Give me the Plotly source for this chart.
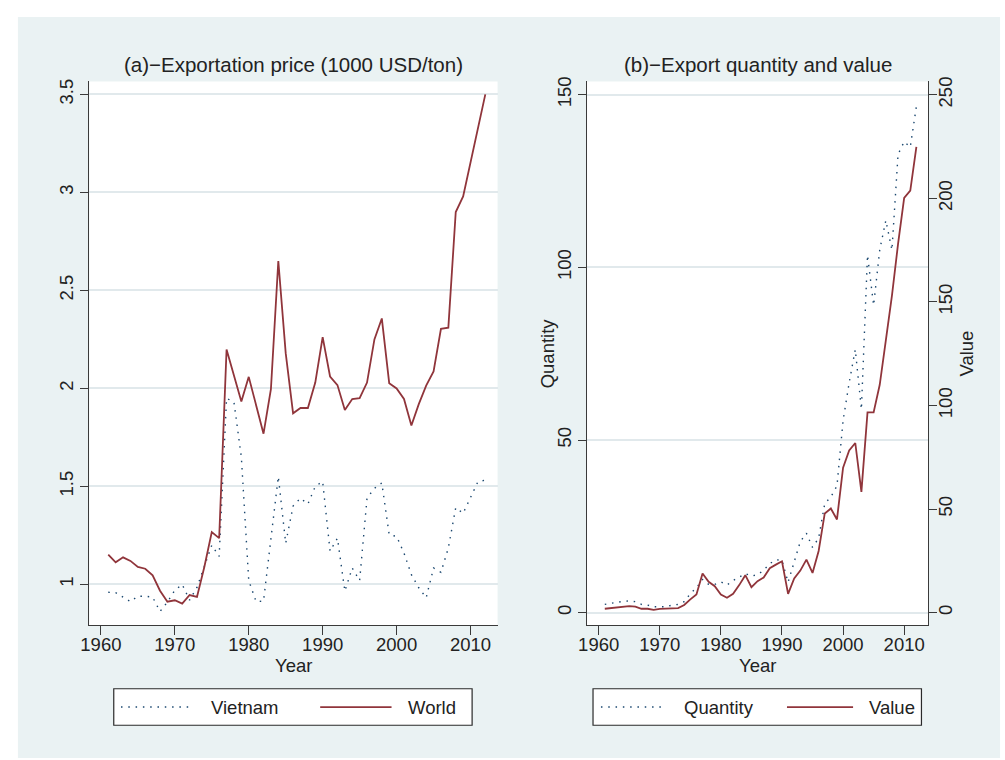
import plotly.graph_objects as go

# ---------------- data ----------------
years = list(range(1961, 2013))

vietnam_price = [0.96, 0.958, 0.935, 0.912, 0.94, 0.94, 0.935, 0.862, 0.91, 0.97,
                 1.0, 0.92, 0.985, 1.09, 1.20, 1.143, 1.95, 1.93, 1.65, 1.02,
                 0.912, 0.915, 1.236, 1.55, 1.21, 1.40, 1.44, 1.41, 1.50, 1.525,
                 1.17, 1.236, 0.966, 1.084, 1.02, 1.44, 1.49, 1.518, 1.253, 1.245,
                 1.16, 1.05, 0.983, 0.932, 1.084, 1.062, 1.186, 1.392, 1.363, 1.447,
                 1.524, 1.532]

world_price = [1.152, 1.113, 1.138, 1.12, 1.089, 1.08, 1.046, 0.968, 0.912, 0.919,
               0.902, 0.946, 0.936, 1.09, 1.267, 1.236, 2.199, 2.07, 1.933, 2.059,
               1.91, 1.769, 1.996, 2.65, 2.18, 1.873, 1.90, 1.90, 2.03, 2.262,
               2.061, 2.017, 1.89, 1.946, 1.95, 2.03, 2.25, 2.357, 2.027, 2.0,
               1.946, 1.811, 1.92, 2.014, 2.087, 2.304, 2.31, 2.90, 2.98, 3.159,
               3.33, 3.50]

quantity = [2.4, 2.7, 3.2, 3.3, 3.4, 3.2, 2.4, 2.2, 1.7, 1.7,
            1.7, 2.2, 2.4, 3.2, 5.5, 7.2, 9.6, 8.2, 8.2, 8.9,
            8.0, 9.3, 10.3, 11.3, 10.6, 11.0, 12.3, 14.2, 15.3, 15.2,
            8.8, 14.4, 20.6, 23.0, 18.9, 21.6, 31.6, 33.5, 36.7, 55.6,
            66.6, 76.2, 58.9, 103.5, 89.0, 105.0, 113.6, 105.0, 132.7, 136.4,
            134.8, 146.6]

value = [1.9, 2.2, 2.4, 2.6, 3.2, 2.9, 1.9, 1.9, 1.4, 1.8,
         1.8, 2.1, 2.2, 3.7, 6.4, 8.8, 18.9, 14.9, 12.8, 8.8,
         7.2, 9.1, 13.3, 18.1, 12.3, 15.2, 17.0, 21.5, 23.2, 24.8,
         9.1, 16.5, 20.3, 25.6, 19.2, 29.8, 47.9, 50.3, 45.0, 70.0,
         78.3, 81.9, 58.3, 96.7, 96.7, 110.0, 131.5, 153.0, 178.0, 200.2,
         203.7, 224.8]

x_ticks = [1960, 1970, 1980, 1990, 2000, 2010]
price_ticks = [1, 1.5, 2, 2.5, 3, 3.5]
price_tick_labels = ["1", "1.5", "2", "2.5", "3", "3.5"]
qty_ticks = [0, 50, 100, 150]
val_ticks = [0, 50, 100, 150, 200, 250]

title_a = "(a)\u2212Exportation price (1000 USD/ton)"
title_b = "(b)\u2212Export quantity and value"
legend_a = ["Vietnam", "World"]
legend_b = ["Quantity", "Value"]

# ---------------- styling ----------------
NAVY = "#1a476f"
MAROON = "#90353b"
BG = "#eaf2f3"
GRID = "#e1e9ec"
AXC = "#3a3a3a"
TXT = "#222222"
FONT = "Liberation Sans, Arial, Helvetica, sans-serif"
DOT = "1.5px,5.8px"

W, H = 1005, 760
OFF = 0  # page body margin removed below


def px(X):
    return (X - OFF) / W


def py(Y):
    return 1 - (Y - OFF) / H


# plot area boxes (screen pixels)
L_X0, L_X1 = 81, 493
R_X0, R_X1 = 583.3, 927.3
Y0, Y1 = 77, 624.3

fig = go.Figure()

fig.add_trace(go.Scatter(x=years, y=vietnam_price, mode="lines", name=legend_a[0],
                         line=dict(color=NAVY, width=1.4, dash=DOT),
                         xaxis="x", yaxis="y", showlegend=False))
fig.add_trace(go.Scatter(x=years, y=world_price, mode="lines", name=legend_a[1],
                         line=dict(color=MAROON, width=1.8),
                         xaxis="x", yaxis="y", showlegend=False))
fig.add_trace(go.Scatter(x=years, y=quantity, mode="lines", name=legend_b[0],
                         line=dict(color=NAVY, width=1.4, dash=DOT),
                         xaxis="x2", yaxis="y2", showlegend=False))
fig.add_trace(go.Scatter(x=years, y=value, mode="lines", name=legend_b[1],
                         line=dict(color=MAROON, width=1.8),
                         xaxis="x2", yaxis="y3", showlegend=False))

tickfont = dict(family=FONT, size=18.5, color=TXT)
common_x = dict(tickmode="array", tickvals=x_ticks, showgrid=False, zeroline=False,
                showline=True, linecolor=AXC, linewidth=1, ticks="outside",
                ticklen=9, tickcolor=AXC, tickwidth=1, tickfont=tickfont,
                ticklabelstandoff=-6)
common_y = dict(showline=True, linecolor=AXC, linewidth=1, ticks="outside", ticklen=8,
                tickcolor=AXC, tickwidth=1, tickfont=tickfont, zeroline=False,
                tickangle=-90)

fig.update_layout(
    width=W, height=H,
    margin=dict(l=0, r=0, t=0, b=0, pad=0),
    paper_bgcolor="white",
    plot_bgcolor="rgba(0,0,0,0)",
    showlegend=False,
    font=dict(family=FONT, color=TXT),
    xaxis=dict(domain=[px(L_X0), px(L_X1)], range=[1958.43, 2013.66], anchor="y", **common_x),
    yaxis=dict(domain=[py(Y1), py(Y0)], range=[0.792, 3.566], anchor="x",
               tickmode="array", tickvals=price_ticks, ticktext=price_tick_labels,
               showgrid=True, gridcolor=GRID, gridwidth=1.6, **common_y),
    xaxis2=dict(domain=[px(R_X0), px(R_X1)], range=[1958.1, 2013.9], anchor="y2", **common_x),
    yaxis2=dict(domain=[py(Y1), py(Y0)], range=[-3.62, 153.8], anchor="x2",
                tickmode="array", tickvals=qty_ticks,
                showgrid=True, gridcolor=GRID, gridwidth=1.6, **common_y),
    yaxis3=dict(range=[-6.04, 256.4], anchor="x2", overlaying="y2", side="right",
                tickmode="array", tickvals=val_ticks, showgrid=False,
                ticklabelstandoff=-7, **common_y),
)

shapes = []
# tinted graph region
shapes.append(dict(type="rect", xref="paper", yref="paper", layer="below",
                   x0=px(9), x1=px(1000), y0=py(758), y1=py(12),
                   fillcolor=BG, line=dict(width=0)))
# white plot regions
for a, b in [(L_X0, L_X1), (R_X0, R_X1)]:
    shapes.append(dict(type="rect", xref="paper", yref="paper", layer="below",
                       x0=px(a), x1=px(b), y0=py(Y1), y1=py(Y0),
                       fillcolor="white", line=dict(width=0)))

# legends (drawn manually to match the reference box layout)
LEG_Y0, LEG_Y1 = 688.3, 725
LEG_YC = 706.7
legend_specs = [
    dict(box=(105.7, 467.3), s1=(113, 186), t1=201.7, s2=(314, 386), t2=400.7, labels=legend_a),
    dict(box=(589.3, 920.7), s1=(597.3, 662.7), t1=679, s2=(785, 851.7), t2=866, labels=legend_b),
]
annotations = []
for spec in legend_specs:
    shapes.append(dict(type="rect", xref="paper", yref="paper", layer="above",
                       x0=px(spec["box"][0]), x1=px(spec["box"][1]),
                       y0=py(LEG_Y1), y1=py(LEG_Y0),
                       fillcolor="white", line=dict(color="#2a2a2a", width=1.2)))
    shapes.append(dict(type="line", xref="paper", yref="paper", layer="above",
                       x0=px(spec["s1"][0]), x1=px(spec["s1"][1]), y0=py(LEG_YC), y1=py(LEG_YC),
                       line=dict(color=NAVY, width=1.4, dash=DOT)))
    shapes.append(dict(type="line", xref="paper", yref="paper", layer="above",
                       x0=px(spec["s2"][0]), x1=px(spec["s2"][1]), y0=py(LEG_YC), y1=py(LEG_YC),
                       line=dict(color=MAROON, width=1.8)))
    for tx, lab in [(spec["t1"], spec["labels"][0]), (spec["t2"], spec["labels"][1])]:
        annotations.append(dict(text=lab, xref="paper", yref="paper", x=px(tx), y=py(LEG_YC),
                                xanchor="left", yanchor="middle", showarrow=False,
                                font=dict(family=FONT, size=18.5, color=TXT)))

# panel titles
for txt, a, b in [(title_a, L_X0, L_X1), (title_b, R_X0, R_X1)]:
    annotations.append(dict(text=txt, xref="paper", yref="paper", x=px((a + b) / 2), y=py(60),
                            xanchor="center", yanchor="middle", showarrow=False,
                            font=dict(family=FONT, size=20.5, color=TXT)))

# axis titles
for a, b in [(L_X0, L_X1), (R_X0, R_X1)]:
    annotations.append(dict(text="Year", xref="paper", yref="paper", x=px((a + b) / 2), y=py(665),
                            xanchor="center", yanchor="middle", showarrow=False,
                            font=dict(family=FONT, size=18.5, color=TXT)))
annotations.append(dict(text="Quantity", xref="paper", yref="paper", x=px(543), y=py(350.5),
                        xanchor="center", yanchor="middle", textangle=-90, showarrow=False,
                        font=dict(family=FONT, size=18.5, color=TXT)))
annotations.append(dict(text="Value", xref="paper", yref="paper", x=px(966), y=py(350.5),
                        xanchor="center", yanchor="middle", textangle=-90, showarrow=False,
                        font=dict(family=FONT, size=18.5, color=TXT)))

fig.update_layout(shapes=shapes, annotations=annotations)

fig.write_html("out.html",
               config={"displayModeBar": False},
               post_script="document.body.style.margin='0';document.body.style.overflow='hidden';")
